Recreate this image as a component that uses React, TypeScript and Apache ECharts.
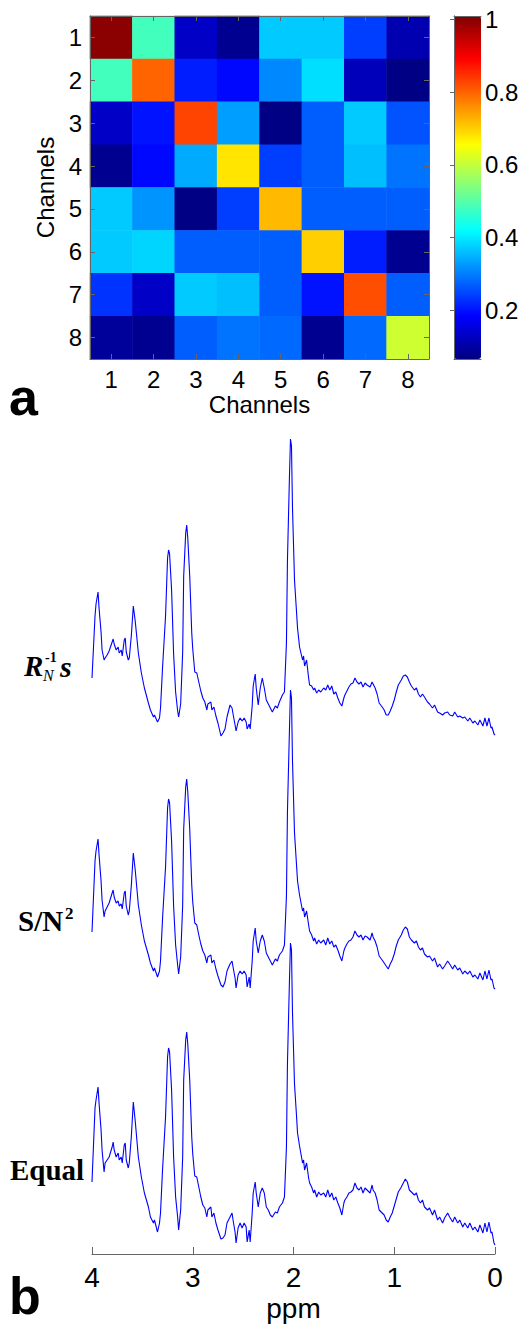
import React, { useEffect, useRef } from "react";
import * as echarts from "echarts";

const CHANNELS = ["1", "2", "3", "4", "5", "6", "7", "8"];
const ROW1 = [1.0, 0.48, 0.13, 0.08, 0.37, 0.37, 0.24, 0.11];
const ROW2 = [0.48, 0.8, 0.21, 0.19, 0.31, 0.39, 0.12, 0.07];
const ROW3 = [0.13, 0.2, 0.83, 0.33, 0.07, 0.27, 0.37, 0.26];
const ROW4 = [0.08, 0.19, 0.34, 0.68, 0.24, 0.27, 0.36, 0.29];
const ROW5 = [0.37, 0.32, 0.07, 0.24, 0.72, 0.27, 0.27, 0.27];
const ROW6 = [0.37, 0.38, 0.27, 0.27, 0.27, 0.7, 0.21, 0.08];
const ROW7 = [0.23, 0.13, 0.37, 0.36, 0.27, 0.2, 0.82, 0.27];
const ROW8 = [0.09, 0.08, 0.27, 0.29, 0.28, 0.08, 0.28, 0.61];
const MATRIX = [ROW1, ROW2, ROW3, ROW4, ROW5, ROW6, ROW7, ROW8];

const CBAR_MIN = 0.065;
const CBAR_MAX = 1.01;
const CBAR_TICKS = [0.2, 0.4, 0.6, 0.8, 1];
const JET = ["#000080", "#0000ff", "#0080ff", "#00ffff", "#80ff80", "#ffff00", "#ff8000", "#ff0000", "#800000"];

const PPM = [
  4.0, 3.97, 3.96, 3.94, 3.93, 3.91, 3.9, 3.88, 3.87, 3.85,
  3.83, 3.8, 3.79, 3.78, 3.76, 3.74, 3.73, 3.71, 3.7, 3.68,
  3.67, 3.66, 3.64, 3.63, 3.61, 3.59, 3.57, 3.54, 3.51, 3.48,
  3.44, 3.42, 3.39, 3.38, 3.35, 3.33, 3.32, 3.3, 3.27, 3.25,
  3.24, 3.23, 3.21, 3.19, 3.17, 3.15, 3.14, 3.12, 3.1, 3.09,
  3.07, 3.06, 3.05, 3.03, 3.01, 3.0, 2.98, 2.96, 2.94, 2.92,
  2.9, 2.88, 2.86, 2.85, 2.82, 2.81, 2.79, 2.77, 2.75, 2.72,
  2.7, 2.68, 2.66, 2.63, 2.61, 2.6, 2.58, 2.57, 2.55, 2.53,
  2.51, 2.49, 2.47, 2.46, 2.44, 2.43, 2.41, 2.4, 2.38, 2.37,
  2.35, 2.33, 2.31, 2.29, 2.27, 2.25, 2.23, 2.21, 2.18, 2.16,
  2.14, 2.11, 2.09, 2.07, 2.06, 2.04, 2.03, 2.02, 2.01, 1.99,
  1.97, 1.96, 1.94, 1.91, 1.9, 1.89, 1.87, 1.85, 1.84, 1.82,
  1.8, 1.79, 1.77, 1.75, 1.73, 1.7, 1.68, 1.66, 1.64, 1.62,
  1.6, 1.58, 1.56, 1.54, 1.52, 1.5, 1.49, 1.47, 1.45, 1.43,
  1.41, 1.39, 1.37, 1.35, 1.33, 1.31, 1.29, 1.27, 1.24, 1.22,
  1.21, 1.19, 1.17, 1.15, 1.12, 1.1, 1.08, 1.06, 1.04, 1.02,
  1.0, 0.98, 0.96, 0.93, 0.91, 0.89, 0.87, 0.85, 0.83, 0.8,
  0.78, 0.76, 0.74, 0.72, 0.7, 0.67, 0.65, 0.62, 0.6, 0.57,
  0.55, 0.52, 0.5, 0.47, 0.45, 0.42, 0.4, 0.37, 0.35, 0.32,
  0.3, 0.27, 0.25, 0.22, 0.2, 0.17, 0.15, 0.12, 0.1, 0.08,
  0.06, 0.04, 0.03, 0.01, 0.0,
];

const SPEC_RN = [
  70, 132, 144, 156, 140, 116, 98, 88, 90, 93,
  97, 106, 109, 104, 98, 101, 95, 98, 92, 108,
  110, 96, 88, 90, 112, 142, 126, 95, 75, 60,
  45, 38, 31, 33, 26, 30, 40, 80, 132, 190,
  198, 194, 158, 94, 56, 37, 31, 44, 96, 172,
  215, 223, 211, 172, 115, 99, 76, 75, 66, 57,
  50, 46, 38, 44, 46, 38, 41, 32, 25, 12,
  15, 19, 31, 43, 40, 34, 23, 17, 26, 30,
  27, 30, 26, 19, 24, 19, 42, 62, 74, 60,
  43, 60, 70, 60, 48, 44, 40, 36, 42, 40,
  46, 53, 56, 105, 188, 272, 309, 302, 240, 168,
  136, 120, 101, 88, 92, 82, 88, 70, 63, 62,
  58, 60, 55, 58, 56, 60, 58, 63, 58, 62,
  54, 56, 50, 45, 42, 50, 53, 57, 61, 64,
  65, 70, 66, 64, 66, 61, 65, 63, 61, 66,
  64, 60, 54, 45, 41, 38, 33, 33, 37, 42,
  48, 56, 63, 68, 72, 73, 71, 66, 62, 58,
  60, 54, 51, 54, 51, 46, 44, 40, 43, 36,
  35, 33, 35, 36, 33, 32, 36, 31, 32, 30,
  31, 27, 30, 25, 27, 23, 28, 22, 30, 22,
  30, 20, 21, 14, 13,
];

const SPEC_SN2 = [
  69, 140, 150, 162, 146, 120, 101, 84, 90, 94,
  98, 108, 111, 104, 98, 100, 95, 97, 92, 108,
  110, 95, 86, 90, 115, 148, 130, 96, 76, 60,
  46, 38, 30, 33, 24, 30, 40, 82, 134, 193,
  202, 198, 160, 95, 56, 36, 27, 44, 96, 172,
  214, 222, 210, 172, 116, 99, 78, 76, 66, 57,
  50, 46, 38, 44, 46, 38, 41, 32, 25, 16,
  14, 19, 30, 37, 40, 34, 23, 13, 26, 30,
  27, 30, 26, 14, 24, 13, 40, 60, 73, 60,
  48, 60, 66, 60, 48, 44, 40, 36, 42, 40,
  46, 50, 56, 105, 190, 272, 311, 303, 240, 168,
  136, 120, 106, 90, 93, 84, 90, 76, 70, 66,
  60, 63, 57, 61, 58, 61, 56, 63, 57, 60,
  54, 56, 51, 45, 40, 50, 53, 57, 60, 61,
  64, 70, 66, 64, 66, 61, 65, 64, 61, 68,
  64, 60, 54, 45, 41, 38, 35, 32, 37, 41,
  47, 55, 61, 66, 71, 74, 72, 64, 61, 58,
  60, 54, 51, 53, 47, 44, 45, 40, 43, 34,
  37, 32, 35, 40, 37, 32, 36, 31, 33, 27,
  30, 27, 30, 24, 26, 22, 28, 21, 30, 22,
  31, 21, 22, 13, 12,
];

const SPEC_EQUAL = [
  72, 146, 154, 167, 151, 124, 104, 82, 91, 94,
  97, 107, 112, 104, 97, 101, 94, 97, 91, 109,
  111, 94, 86, 91, 117, 152, 132, 97, 77, 61,
  47, 37, 31, 34, 22, 31, 41, 84, 137, 197,
  206, 202, 164, 97, 57, 37, 24, 44, 97, 174,
  214, 222, 211, 174, 117, 100, 78, 77, 67, 57,
  49, 46, 37, 44, 47, 37, 41, 31, 24, 15,
  16, 19, 31, 37, 41, 34, 22, 11, 26, 31,
  26, 31, 27, 12, 24, 12, 41, 61, 72, 61,
  47, 61, 66, 61, 47, 44, 39, 37, 42, 41,
  47, 51, 57, 107, 191, 274, 311, 304, 241, 170,
  138, 121, 108, 91, 94, 84, 91, 76, 71, 67,
  61, 64, 57, 62, 59, 61, 57, 64, 57, 61,
  54, 57, 51, 46, 39, 51, 54, 57, 61, 62,
  64, 71, 66, 64, 67, 61, 66, 64, 61, 69,
  64, 61, 54, 44, 41, 39, 34, 32, 37, 41,
  48, 55, 62, 67, 71, 75, 72, 64, 62, 59,
  61, 54, 51, 54, 47, 44, 46, 39, 44, 34,
  37, 31, 36, 41, 37, 32, 37, 31, 34, 27,
  31, 26, 31, 24, 27, 22, 29, 21, 31, 22,
  32, 21, 22, 11, 9,
];

const PPM_MIN = 0;
const PPM_MAX = 4;
const SPEC_RANGE = 320;

const SANS = "'Liberation Sans', Arial, sans-serif";
const SERIF = "'Liberation Serif', 'Times New Roman', serif";
const AXIS_GRAY = "#666666";

export default function App() {
  const ref = useRef<HTMLDivElement>(null);

  useEffect(() => {
    const chart = echarts.init(ref.current!, null, { renderer: "svg" });

    const heatData: number[][] = [];
    MATRIX.forEach((row, r) => row.forEach((v, c) => heatData.push([c, r, v])));

    const specs = [SPEC_RN, SPEC_SN2, SPEC_EQUAL];
    const specTops = [428, 681, 934];

    const grayLine = { show: true, lineStyle: { color: AXIS_GRAY, width: 1 } };

    const option: any = {
      animation: false,
      backgroundColor: "#ffffff",
      textStyle: { fontFamily: SANS },
      grid: [
        { left: 90, top: 16, width: 339, height: 343 },
        { left: 454, top: 16, width: 27, height: 343 },
        ...specTops.map((t) => ({ left: 92, top: t, width: 403, height: SPEC_RANGE })),
      ],
      xAxis: [
        {
          type: "category", gridIndex: 0, data: CHANNELS, position: "bottom", z: 10,
          axisLine: grayLine,
          axisTick: { show: true, inside: true, alignWithLabel: true, length: 5, lineStyle: { color: AXIS_GRAY } },
          axisLabel: { fontSize: 24, color: "#000", margin: 8 },
          name: "Channels", nameLocation: "middle", nameGap: 33,
          nameTextStyle: { fontSize: 24, color: "#000" },
          splitLine: { show: false },
        },
        {
          type: "category", gridIndex: 0, data: CHANNELS, position: "top", z: 10,
          axisLine: grayLine,
          axisTick: { show: true, inside: true, alignWithLabel: true, length: 5, lineStyle: { color: AXIS_GRAY } },
          axisLabel: { show: false },
        },
        {
          type: "value", gridIndex: 1, position: "bottom", z: 10, min: 0, max: 1,
          axisLine: grayLine, axisTick: { show: false }, axisLabel: { show: false }, splitLine: { show: false },
        },
        {
          type: "value", gridIndex: 1, position: "top", z: 10, min: 0, max: 1,
          axisLine: grayLine, axisTick: { show: false }, axisLabel: { show: false }, splitLine: { show: false },
        },
        ...specTops.map((_, i) => ({
          type: "value", gridIndex: 2 + i, min: PPM_MIN, max: PPM_MAX, interval: 1, inverse: true,
          show: i === 2,
          axisLine: grayLine,
          axisTick: { show: true, inside: true, length: 7, lineStyle: { color: AXIS_GRAY } },
          axisLabel: { fontSize: 28, color: "#000", margin: 9 },
          name: "ppm", nameLocation: "middle", nameGap: 40,
          nameTextStyle: { fontSize: 28, color: "#000" },
          splitLine: { show: false },
        })),
      ],
      yAxis: [
        {
          type: "category", gridIndex: 0, data: CHANNELS, inverse: true, position: "left", z: 10,
          axisLine: grayLine,
          axisTick: { show: true, inside: true, alignWithLabel: true, length: 5, lineStyle: { color: AXIS_GRAY } },
          axisLabel: { fontSize: 24, color: "#000", margin: 8 },
          name: "Channels", nameLocation: "middle", nameGap: 17, nameRotate: 90,
          nameTextStyle: { fontSize: 24, color: "#000" },
          splitLine: { show: false },
        },
        {
          type: "category", gridIndex: 0, data: CHANNELS, inverse: true, position: "right", z: 10,
          axisLine: grayLine,
          axisTick: { show: true, inside: true, alignWithLabel: true, length: 5, lineStyle: { color: AXIS_GRAY } },
          axisLabel: { show: false },
        },
        {
          type: "value", gridIndex: 1, position: "right", z: 10, min: CBAR_MIN, max: CBAR_MAX,
          axisLine: grayLine,
          axisTick: { show: true, inside: true, length: 4, customValues: CBAR_TICKS, lineStyle: { color: AXIS_GRAY } },
          axisLabel: { fontSize: 24, color: "#000", margin: 4, customValues: CBAR_TICKS, formatter: (v: number) => String(v) },
          splitLine: { show: false },
        },
        {
          type: "value", gridIndex: 1, position: "left", z: 10, min: CBAR_MIN, max: CBAR_MAX,
          axisLine: grayLine, axisTick: { show: false }, axisLabel: { show: false }, splitLine: { show: false },
        },
        ...specTops.map((_, i) => ({
          type: "value", gridIndex: 2 + i, min: 0, max: SPEC_RANGE, show: false,
        })),
      ],
      visualMap: {
        type: "continuous", seriesIndex: 0, min: CBAR_MIN, max: CBAR_MAX,
        left: 454, top: 16, itemWidth: 27, itemHeight: 343, padding: 0,
        calculable: false, hoverLink: false, inRange: { color: JET },
      },
      series: [
        {
          type: "heatmap", xAxisIndex: 0, yAxisIndex: 0, data: heatData,
          itemStyle: { borderWidth: 0 }, emphasis: { disabled: true },
        },
        ...specs.map((s, i) => ({
          type: "line", xAxisIndex: 4 + i, yAxisIndex: 4 + i,
          data: PPM.map((p, k) => [p, s[k]]),
          showSymbol: false, symbol: "none", clip: false,
          lineStyle: { color: "#0000ff", width: 1.1 },
        })),
      ],
      graphic: [
        { type: "text", left: 9, top: 371, style: { text: "a", font: `bold 52px ${SANS}`, fill: "#000" } },
        { type: "text", left: 9, top: 1270, style: { text: "b", font: `bold 52px ${SANS}`, fill: "#000" } },
        { type: "text", x: 24, y: 666, style: { text: "R", font: `bold italic 29px ${SERIF}`, fill: "#000", verticalAlign: "middle" } },
        { type: "text", x: 43, y: 675, style: { text: "N", font: `italic 16px ${SERIF}`, fill: "#000", verticalAlign: "middle" } },
        { type: "text", x: 45, y: 657, style: { text: "-1", font: `bold 14px ${SERIF}`, fill: "#000", verticalAlign: "middle" } },
        { type: "text", x: 60, y: 666, style: { text: "s", font: `bold italic 30px ${SERIF}`, fill: "#000", verticalAlign: "middle" } },
        { type: "text", x: 18, y: 921, style: { text: "S/N", font: `bold 29px ${SERIF}`, fill: "#000", verticalAlign: "middle" } },
        { type: "text", x: 65, y: 913, style: { text: "2", font: `bold 17px ${SERIF}`, fill: "#000", verticalAlign: "middle" } },
        { type: "text", x: 10, y: 1170, style: { text: "Equal", font: `bold 29px ${SERIF}`, fill: "#000", verticalAlign: "middle" } },
      ],
    };

    chart.setOption(option);
    return () => chart.dispose();
  }, []);

  return <div ref={ref} style={{ position: "absolute", left: 0, top: 0, width: 524, height: 1328 }} />;
}
